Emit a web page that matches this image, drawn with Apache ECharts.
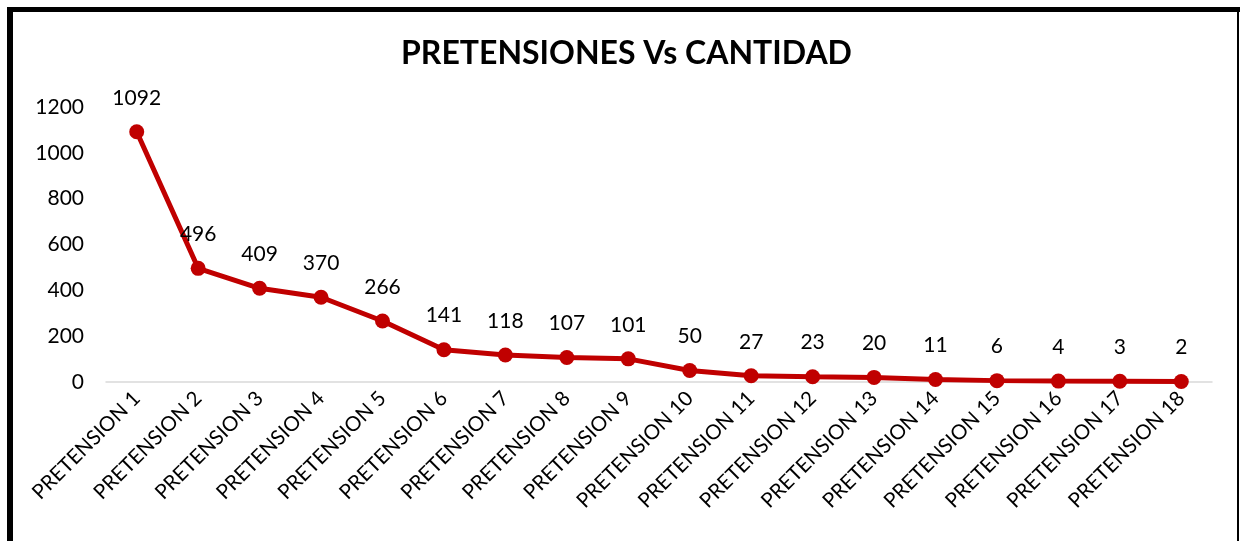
<!DOCTYPE html>
<html>
<head>
<meta charset="utf-8">
<script src="https://cdn.jsdelivr.net/npm/echarts@6/dist/echarts.min.js"></script>
<style>
html,body{margin:0;padding:0;background:#fff;}
#chart{width:1240px;height:541px;}
</style>
</head>
<body>
<div id="chart"></div>
<script>
var categories = ['PRETENSION 1','PRETENSION 2','PRETENSION 3','PRETENSION 4','PRETENSION 5','PRETENSION 6','PRETENSION 7','PRETENSION 8','PRETENSION 9','PRETENSION 10','PRETENSION 11','PRETENSION 12','PRETENSION 13','PRETENSION 14','PRETENSION 15','PRETENSION 16','PRETENSION 17','PRETENSION 18'];
var cantidad = [1092,496,409,370,266,141,118,107,101,50,27,23,20,11,6,4,3,2];
var titleText = 'PRETENSIONES Vs CANTIDAD';

var FONT = 'Lato';
var chart = echarts.init(document.getElementById('chart'));
chart.setOption({
  animation:false,
  backgroundColor:'#fff',
  title:{text:titleText,left:401,top:38,padding:0,textStyle:{fontFamily:FONT,fontWeight:'bold',fontSize:32,color:'#000'}},
  grid:{left:106,right:28,top:107,bottom:159},
  xAxis:{type:'category',data:categories,boundaryGap:true,
    axisLine:{lineStyle:{color:'#d9d9d9',width:1.5}},axisTick:{show:false},
    axisLabel:{rotate:45,interval:0,fontFamily:FONT,fontSize:20.5,color:'#000',margin:13}},
  yAxis:{type:'value',min:0,max:1200,interval:200,
    splitLine:{show:false},axisLine:{show:false},axisTick:{show:false},
    axisLabel:{fontFamily:FONT,fontSize:21,color:'#000',margin:22,formatter:function(v){return String(v);}}},
  series:[{type:'line',data:cantidad,symbol:'circle',symbolSize:15,
    lineStyle:{color:'#C00000',width:5},itemStyle:{color:'#C00000'},
    label:{show:true,position:'top',distance:16,fontFamily:FONT,fontSize:21,color:'#000'}}],
  graphic:[
    {type:'rect',shape:{x:7,y:7,width:6,height:541},style:{fill:'#000'}},
    {type:'rect',shape:{x:7,y:7,width:1233,height:5},style:{fill:'#000'}},
    {type:'rect',shape:{x:1237,y:7,width:2,height:541},style:{fill:'#000'}}
  ]
});
</script>
</body>
</html>
